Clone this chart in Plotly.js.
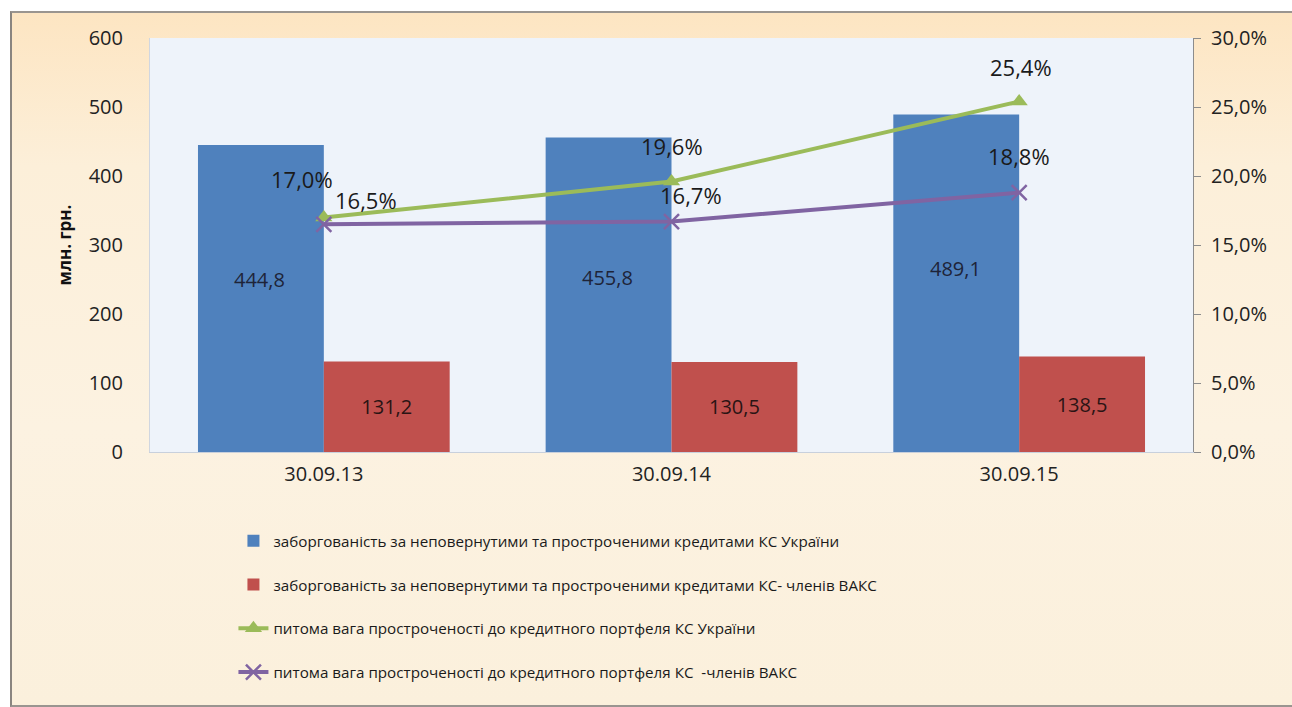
<!DOCTYPE html>
<html>
<head>
<meta charset="utf-8">
<script src="https://cdn.plot.ly/plotly-3.0.1.min.js"></script>
<style>
  html, body { margin: 0; padding: 0; background: #ffffff; overflow: hidden; }
  #frame {
    position: absolute; left: 10px; top: 11px; width: 1300px; height: 692px;
    border-left: 2px solid #8a8580; border-top: 2px solid #9a9590; border-bottom: 2px solid #9a9590;
    background: linear-gradient(180deg, #fde5c2 0%, #fcefd9 22%, #fcf2e1 60%, #fbf0dc 100%);
  }
  #plot { position: absolute; left: 0; top: 0; width: 1292px; height: 707px; }
</style>
</head>
<body>
<div id="frame"></div>
<div id="plot"></div>
<script>
const dates = ['30.09.13', '30.09.14', '30.09.15'];

const debtUkraine = [444.8, 455.8, 489.1];
const debtVaks = [131.2, 130.5, 138.5];
const shareUkraine = [17.0, 19.6, 25.4];
const shareVaks = [16.5, 16.7, 18.8];

const names = [
    'заборгованість за неповернутими та простроченими кредитами КС України',
    'заборгованість за неповернутими та простроченими кредитами КС- членів ВАКС',
    'питома вага простроченості до кредитного портфеля КС України',
    'питома вага простроченості до кредитного портфеля КС  -членів ВАКС'
];

const font = 'Open Sans, sans-serif';
const fmt = v => v.toFixed(1).replace('.', ',');

const data = [
    {
        x: dates, y: debtUkraine, name: names[0], type: 'bar',
        marker: { color: '#4f81bd' },
        legendgroup: 'a', hoverinfo: 'none'
    },
    {
        x: dates, y: debtVaks, name: names[1], type: 'bar',
        marker: { color: '#c0504d' },
        text: debtVaks.map(fmt), textposition: 'inside', insidetextanchor: 'middle',
        textfont: { family: font, size: 20, color: '#2a1414' },
        legendgroup: 'b', hoverinfo: 'none'
    },
    {
        x: dates, y: shareUkraine, name: names[2], type: 'scatter', mode: 'lines+markers',
        yaxis: 'y2', line: { color: '#9bbb59', width: 4 },
        marker: { symbol: 'triangle-up', size: 15, color: '#9bbb59' },
        legendgroup: 'c', hoverinfo: 'none'
    },
    {
        x: dates, y: shareVaks, name: names[3], type: 'scatter', mode: 'lines+markers',
        yaxis: 'y2', line: { color: '#8064a2', width: 4 },
        marker: { symbol: 'x-thin-open', size: 15, color: '#8064a2', line: { color: '#8064a2', width: 2.5 } },
        legendgroup: 'd', hoverinfo: 'none'
    }
];

// label offsets (px) for the line data labels
const greenShift = [[-22, 38], [0, 36], [2, 34]];
const purpleShift = [[42, 24], [19, 27], [0, 37]];

const annotations = [];
debtUkraine.forEach((v, i) => annotations.push({
    x: dates[i], y: v / 2, text: fmt(v), showarrow: false,
    xshift: -64, yshift: 19 - i * 2,
    font: { family: font, size: 20, color: '#1e2438' }
}));
shareUkraine.forEach((v, i) => annotations.push({
    x: dates[i], y: v, yref: 'y2', text: fmt(v) + '%', showarrow: false,
    xshift: greenShift[i][0], yshift: greenShift[i][1],
    font: { family: font, size: 22, color: '#1a1a1a' }
}));
shareVaks.forEach((v, i) => annotations.push({
    x: dates[i], y: v, yref: 'y2', text: fmt(v) + '%', showarrow: false,
    xshift: purpleShift[i][0], yshift: purpleShift[i][1],
    font: { family: font, size: 22, color: '#1a1a1a' }
}));

const layout = {
    width: 1292, height: 707,
    margin: { l: 150, r: 99, t: 38, b: 255 },
    paper_bgcolor: 'rgba(0,0,0,0)',
    plot_bgcolor: '#eef3fa',
    separators: ', ',
    barmode: 'group', bargap: 0.276, bargroupgap: 0,
    showlegend: true,
    legend: {
        x: 0.08, y: -0.175, xanchor: 'left', yanchor: 'top',
        bgcolor: 'rgba(0,0,0,0)', tracegroupgap: 21,
        font: { family: font, size: 15.2, color: '#1a1a1a' }
    },
    xaxis: {
        type: 'category', showgrid: false, zeroline: false,
        showline: true, linecolor: '#c8d0dc', linewidth: 1, ticks: '',
        ticklabelstandoff: 4,
        tickfont: { family: font, size: 20, color: '#222' }
    },
    yaxis: {
        range: [0, 600], dtick: 100, showgrid: false, zeroline: false,
        showline: true, linecolor: '#d0d6e0', ticks: '',
        ticklabelstandoff: 22,
        tickfont: { family: font, size: 20, color: '#222' },
        title: { text: '<b>млн. грн.</b>', standoff: 12, font: { family: font, size: 17, color: '#111' } }
    },
    yaxis2: {
        overlaying: 'y', side: 'right', range: [0, 30], dtick: 5,
        tickformat: '.1f', ticksuffix: '%',
        showgrid: false, zeroline: false,
        showline: true, linecolor: '#8c8c8c', linewidth: 1,
        ticks: 'outside', ticklen: 7, tickcolor: '#8c8c8c',
        ticklabelstandoff: 6,
        tickfont: { family: font, size: 20, color: '#222' }
    },
    annotations: annotations
};

Plotly.newPlot('plot', data, layout, { displayModeBar: false, staticPlot: true });
</script>
</body>
</html>
